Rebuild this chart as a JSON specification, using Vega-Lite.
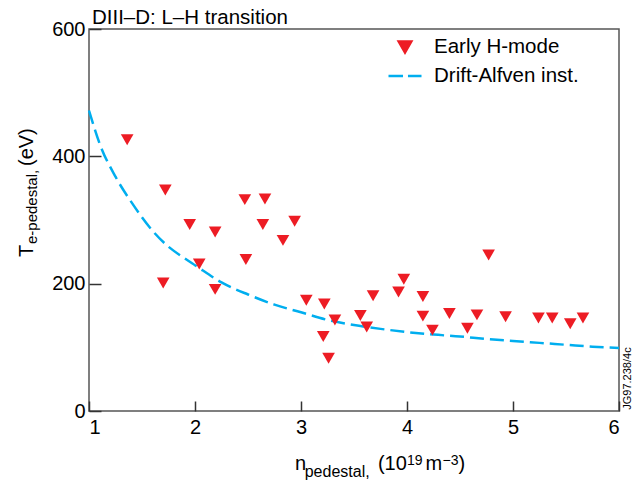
{
  "$schema": "https://vega.github.io/schema/vega-lite/v6.json",
  "autosize": "none",
  "width": 530,
  "height": 382,
  "padding": {"left": 89, "top": 29, "right": 24, "bottom": 72},
  "background": "white",
  "config": {
    "view": {"stroke": "#555", "strokeWidth": 1.5},
    "font": "Liberation Sans",
    "axis": {"domain": false, "grid": false, "labelFont": "Liberation Sans", "labelFontSize": 20, "labelColor": "black", "tickColor": "#333", "tickWidth": 1.5},
    "legend": {"orient": "none", "legendX": 298, "legendY": 0, "padding": 0,
            "labelFontSize": 20.5, "labelFont": "Liberation Sans", "labelColor": "black", "labelLimit": 400,
            "symbolSize": 1089, "labelOffset": 11, "rowPadding": 0}
  },
  "datasets": {
    "hmode": [
      {"n": 1.36, "T": 426}, {"n": 1.72, "T": 347}, {"n": 1.70, "T": 201}, {"n": 1.95, "T": 293},
      {"n": 2.04, "T": 231}, {"n": 2.19, "T": 281}, {"n": 2.19, "T": 191}, {"n": 2.47, "T": 332},
      {"n": 2.48, "T": 238}, {"n": 2.66, "T": 333}, {"n": 2.64, "T": 293}, {"n": 2.83, "T": 268},
      {"n": 2.94, "T": 298}, {"n": 3.05, "T": 174}, {"n": 3.22, "T": 168}, {"n": 3.21, "T": 117},
      {"n": 3.26, "T": 83}, {"n": 3.32, "T": 143}, {"n": 3.56, "T": 150}, {"n": 3.62, "T": 132},
      {"n": 3.68, "T": 181}, {"n": 3.92, "T": 187}, {"n": 3.97, "T": 207}, {"n": 4.15, "T": 180},
      {"n": 4.15, "T": 149}, {"n": 4.24, "T": 127}, {"n": 4.40, "T": 153}, {"n": 4.57, "T": 130},
      {"n": 4.66, "T": 151}, {"n": 4.77, "T": 245}, {"n": 4.93, "T": 148}, {"n": 5.24, "T": 146},
      {"n": 5.37, "T": 146}, {"n": 5.54, "T": 137}, {"n": 5.66, "T": 146}
    ],
    "curve": [
      {"n": 1.0, "T": 472}, {"n": 1.1, "T": 420}, {"n": 1.25, "T": 368}, {"n": 1.4, "T": 328},
      {"n": 1.6, "T": 283}, {"n": 1.75, "T": 258}, {"n": 1.9, "T": 240}, {"n": 2.0, "T": 229},
      {"n": 2.25, "T": 202}, {"n": 2.5, "T": 183}, {"n": 2.75, "T": 167}, {"n": 3.0, "T": 155},
      {"n": 3.25, "T": 143}, {"n": 3.5, "T": 135}, {"n": 3.75, "T": 129}, {"n": 4.0, "T": 124},
      {"n": 4.25, "T": 120}, {"n": 4.5, "T": 117}, {"n": 4.75, "T": 113}, {"n": 5.0, "T": 110},
      {"n": 5.25, "T": 107}, {"n": 5.5, "T": 104}, {"n": 5.75, "T": 101}, {"n": 6.0, "T": 99}
    ],
    "one": [{}]
  },
  "layer": [
    {
      "data": {"name": "curve"},
      "mark": {"type": "line", "strokeWidth": 2.5, "strokeDash": [14, 6], "interpolate": "monotone"},
      "encoding": {
        "x": {"field": "n", "type": "quantitative", "scale": {"domain": [1, 6], "nice": false, "zero": false},
              "axis": {"values": [1, 2, 3, 4, 5, 6], "format": "d", "tickSize": -10, "labelPadding": 16, "title": null}},
        "y": {"field": "T", "type": "quantitative", "scale": {"domain": [0, 600], "nice": false},
              "axis": {"values": [0, 200, 400, 600], "format": "d", "tickSize": -12, "labelPadding": 16, "title": null}},
        "color": {"datum": "Drift-Alfven inst.",
          "scale": {"domain": ["Early H-mode", "Drift-Alfven inst."], "range": ["#ED1C24", "#00AEEF"]},
          "legend": {"title": null,
            "encode": {"symbols": {"update": {
              "shape": {"signal": "datum.value == 'Early H-mode' ? 'M-0.38,-0.33L0.38,-0.33L0,0.33Z' : 'M-1,0L-0.12,0M0.18,0L1,0'"},
              "fill": {"signal": "datum.value == 'Early H-mode' ? '#ED1C24' : 'transparent'"},
              "stroke": {"signal": "datum.value == 'Early H-mode' ? 'transparent' : '#00AEEF'"},
              "strokeWidth": {"value": 2.5},
              "strokeDash": {"value": []},
              "opacity": {"value": 1}
            }}}
          }}
      }
    },
    {
      "data": {"name": "hmode"},
      "mark": {"type": "point", "shape": "triangle-down", "filled": true, "opacity": 1, "size": 160},
      "encoding": {
        "x": {"field": "n", "type": "quantitative"},
        "y": {"field": "T", "type": "quantitative"},
        "color": {"datum": "Early H-mode",
          "legend": {"title": null,
            "encode": {"symbols": {"update": {
              "shape": {"signal": "datum.value == 'Early H-mode' ? 'M-0.38,-0.33L0.38,-0.33L0,0.33Z' : 'M-1,0L-0.12,0M0.18,0L1,0'"},
              "fill": {"signal": "datum.value == 'Early H-mode' ? '#ED1C24' : 'transparent'"},
              "stroke": {"signal": "datum.value == 'Early H-mode' ? 'transparent' : '#00AEEF'"},
              "strokeWidth": {"value": 2.5},
              "strokeDash": {"value": []},
              "opacity": {"value": 1}
            }}}
          }}
      }
    },
    {"data": {"name": "one"}, "mark": {"type": "text", "text": "DIII–D: L–H transition", "align": "left", "baseline": "alphabetic", "fontSize": 20.5, "font": "Liberation Sans", "color": "black"},
     "encoding": {"x": {"datum": 1.028}, "y": {"datum": 607.8}}},
    {"data": {"name": "one"}, "mark": {"type": "text", "text": "n", "align": "left", "baseline": "alphabetic", "fontSize": 20, "font": "Liberation Sans", "color": "black"},
     "encoding": {"x": {"datum": 2.943}, "y": {"datum": -92.7}}},
    {"data": {"name": "one"}, "mark": {"type": "text", "text": "pedestal,", "align": "left", "baseline": "alphabetic", "fontSize": 16, "font": "Liberation Sans", "color": "black"},
     "encoding": {"x": {"datum": 3.035}, "y": {"datum": -103.7}}},
    {"data": {"name": "one"}, "mark": {"type": "text", "text": "(10", "align": "left", "baseline": "alphabetic", "fontSize": 20, "font": "Liberation Sans", "color": "black"},
     "encoding": {"x": {"datum": 3.726}, "y": {"datum": -92.7}}},
    {"data": {"name": "one"}, "mark": {"type": "text", "text": "19", "align": "left", "baseline": "alphabetic", "fontSize": 14, "font": "Liberation Sans", "color": "black"},
     "encoding": {"x": {"datum": 4.0}, "y": {"datum": -84.8}}},
    {"data": {"name": "one"}, "mark": {"type": "text", "text": "m", "align": "left", "baseline": "alphabetic", "fontSize": 20, "font": "Liberation Sans", "color": "black"},
     "encoding": {"x": {"datum": 4.175}, "y": {"datum": -92.7}}},
    {"data": {"name": "one"}, "mark": {"type": "text", "text": "−3", "align": "left", "baseline": "alphabetic", "fontSize": 14, "font": "Liberation Sans", "color": "black"},
     "encoding": {"x": {"datum": 4.335}, "y": {"datum": -84.8}}},
    {"data": {"name": "one"}, "mark": {"type": "text", "text": ")", "align": "left", "baseline": "alphabetic", "fontSize": 20, "font": "Liberation Sans", "color": "black"},
     "encoding": {"x": {"datum": 4.487}, "y": {"datum": -92.7}}},
    {"data": {"name": "one"}, "mark": {"type": "text", "text": "T", "angle": 270, "align": "left", "baseline": "alphabetic", "fontSize": 20, "font": "Liberation Sans", "color": "black"},
     "encoding": {"x": {"datum": 0.4717}, "y": {"datum": 241.9}}},
    {"data": {"name": "one"}, "mark": {"type": "text", "text": "e-pedestal,", "angle": 270, "align": "left", "baseline": "alphabetic", "fontSize": 15, "font": "Liberation Sans", "color": "black"},
     "encoding": {"x": {"datum": 0.509}, "y": {"datum": 262.3}}},
    {"data": {"name": "one"}, "mark": {"type": "text", "text": "(eV)", "angle": 270, "align": "left", "baseline": "alphabetic", "fontSize": 20, "font": "Liberation Sans", "color": "black"},
     "encoding": {"x": {"datum": 0.4717}, "y": {"datum": 384.8}}},
    {"data": {"name": "one"}, "mark": {"type": "text", "text": "JG97.238/4c", "angle": 270, "align": "left", "baseline": "alphabetic", "fontSize": 11, "font": "Liberation Sans", "color": "black"},
     "encoding": {"x": {"datum": 6.113}, "y": {"datum": 2}}}
  ]
}
